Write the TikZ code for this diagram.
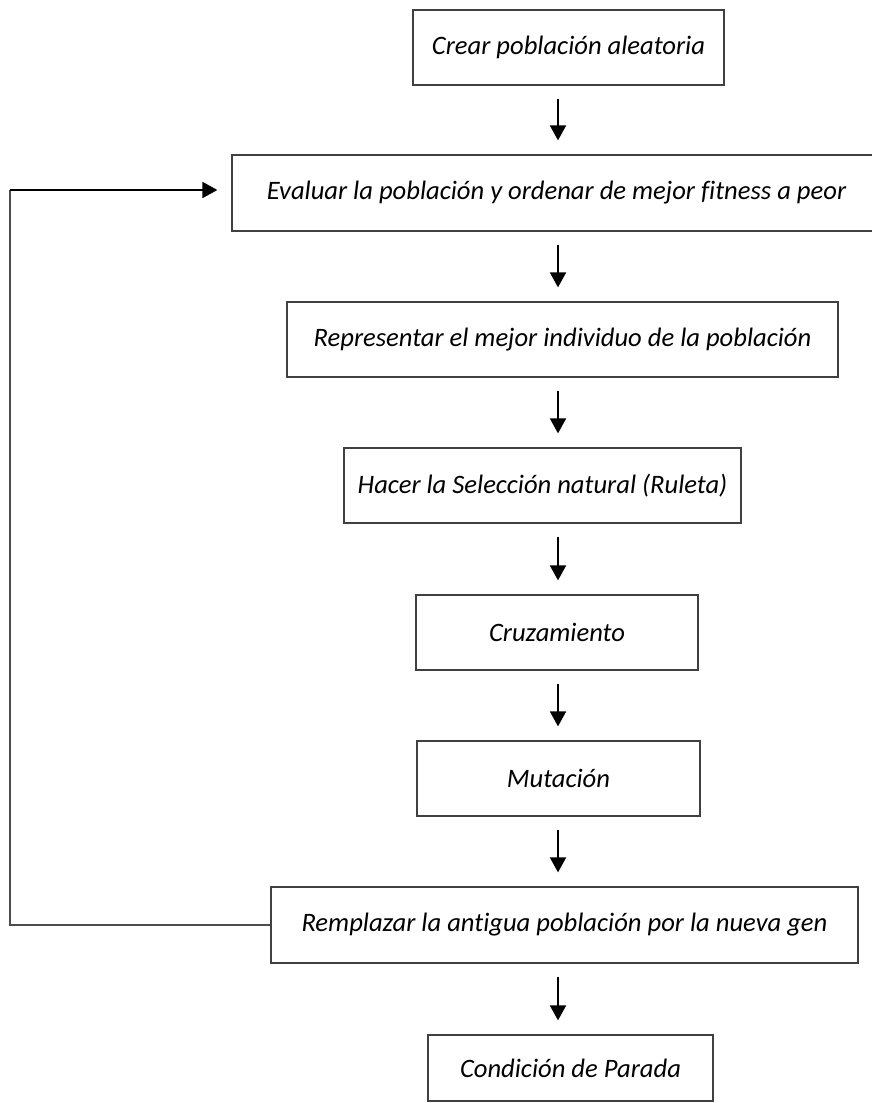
\documentclass[tikz,border=0pt]{standalone}
\usepackage{fontspec}
\setmainfont{Carlito}[Ligatures=CommonOff]
\usepackage{tikz}
\usetikzlibrary{arrows.meta}

\begin{document}
\begin{tikzpicture}[x=0.5pt,y=-0.5pt,
            font=\fontsize{13.3}{15}\selectfont\itshape,
            >={Triangle[length=7.5pt,width=8pt]},
            caja/.style={draw=black!75,line width=0.6pt,inner sep=0pt,minimum height=37.5pt},
            flecha/.style={->,black,line width=0.9pt,shorten <=6.5pt,shorten >=7pt},
        ]
        \useasboundingbox (0,0) rectangle (872,1103);
        \node[caja,minimum width=155.5pt] (crear) at (568.5,47.5) {Crear población aleatoria};
        \node[caja,minimum width=324.5pt,minimum height=38pt] (evaluar) at (556.5,193) {Evaluar la población y ordenar de mejor fitness a peor};
        \node[caja,minimum width=275.5pt] (repr) at (562.5,339.5) {Representar el mejor individuo de la población};
        \node[caja,minimum width=198.5pt] (selec) at (542.5,485.5) {Hacer la Selección natural (Ruleta)};
        \node[caja,minimum width=141pt] (cruce) at (557,632.5) {Cruzamiento};
        \node[caja,minimum width=141.5pt] (mut) at (558.5,778.5) {Mutación};
        \node[caja,minimum width=293.5pt,minimum height=38pt] (reemp) at (564.5,925) {Remplazar la antigua población por la nueva gen};
        \node[caja,minimum width=142.5pt,minimum height=33pt] (parada) at (570.5,1068) {Condición de Parada};
        % columna de las flechas y borde del lazo
        \coordinate (col) at (558,0);
        \coordinate (lazo) at (10,0);
        \draw[flecha] (crear.south -| col) -- (evaluar.north -| col);
        \draw[flecha] (evaluar.south -| col) -- (repr.north -| col);
        \draw[flecha] (repr.south -| col) -- (selec.north -| col);
        \draw[flecha] (selec.south -| col) -- (cruce.north -| col);
        \draw[flecha] (cruce.south -| col) -- (mut.north -| col);
        \draw[flecha] (mut.south -| col) -- (reemp.north -| col);
        \draw[flecha] (reemp.south -| col) -- (parada.north -| col);
        % vuelta a evaluar
        \draw[black!70,line width=0.7pt] (reemp.west) -- (reemp.west -| lazo) -- ([yshift=1.5pt]lazo |- evaluar.west);
        \draw[->,black,line width=0.9pt,shorten >=7pt] ([yshift=1.5pt]lazo |- evaluar.west) -- ([yshift=1.5pt]evaluar.west);
    \end{tikzpicture}
\end{document}
